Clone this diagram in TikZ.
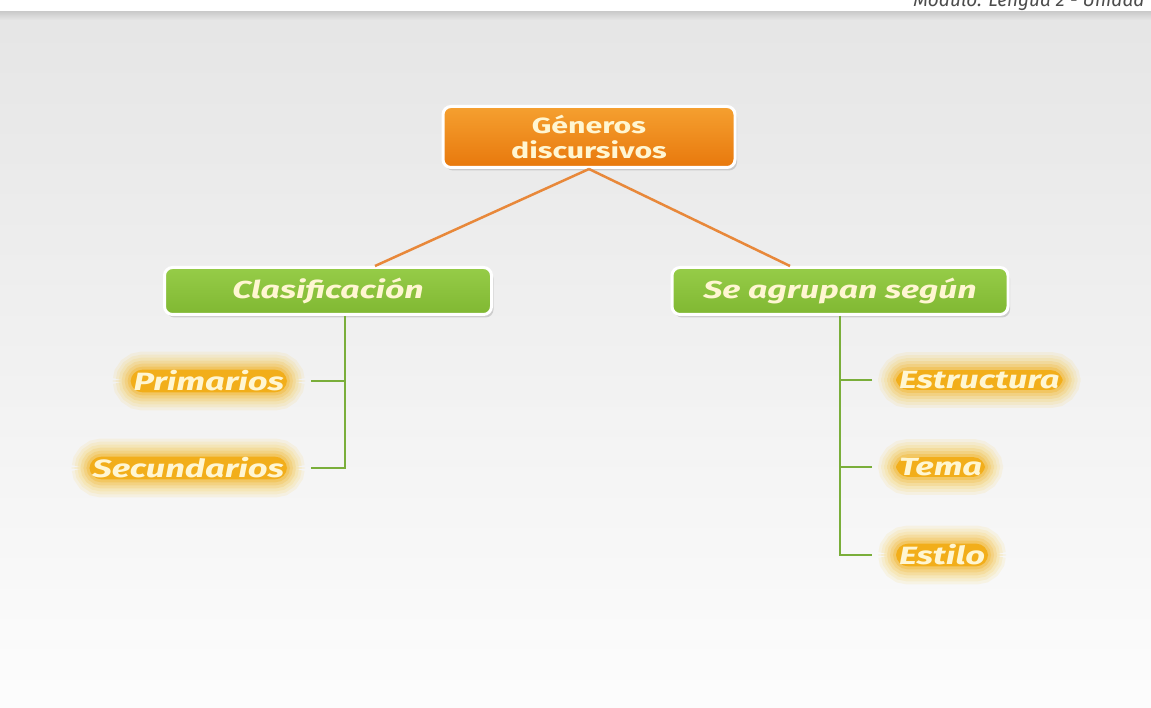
\documentclass[tikz,border=0pt]{standalone}
\usepackage{fontspec}
\setmainfont{Fira Sans}
\newfontfamily\wideface[FakeStretch=1.38]{Fira Sans}
\usetikzlibrary{calc, shadows}

\definecolor{orangetop}{HTML}{F5A030}
\definecolor{orangebot}{HTML}{E8780C}
\definecolor{greentop}{HTML}{96CC48}
\definecolor{greenbot}{HTML}{80B832}
\definecolor{orangeline}{HTML}{E8883A}
\definecolor{greenline}{HTML}{7AAE3A}
\definecolor{glowc}{HTML}{F2AE1A}
\definecolor{halo}{HTML}{F6C83A}
\definecolor{cream}{HTML}{FFF6D2}

\tikzset{
  topbox/.style={rounded corners=8pt, draw=white, line width=3pt,
    top color=orangetop, bottom color=orangebot, text=cream,
    minimum width=292pt, minimum height=61pt, align=center,
    font=\wideface\fontsize{22}{25}\selectfont\bfseries,
    drop shadow={opacity=0.3, shadow xshift=2pt, shadow yshift=-3pt}},
  midbox/.style={rounded corners=8pt, draw=white, line width=3pt,
    top color=greentop, bottom color=greenbot, text=cream,
    minimum height=47pt,
    font=\wideface\fontsize{24.5}{24.5}\selectfont\bfseries\itshape,
    drop shadow={opacity=0.3, shadow xshift=2pt, shadow yshift=-3pt}},
  leaf/.style={rounded corners=12pt, fill=glowc, text=cream,
    inner xsep=3pt, inner ysep=1pt, outer xsep=24pt,
    font=\wideface\fontsize{25}{25}\selectfont\bfseries\itshape,
    preaction={draw=halo, line width=36pt, opacity=0.1},
    preaction={draw=halo, line width=30pt, opacity=0.12},
    preaction={draw=halo, line width=24pt, opacity=0.14},
    preaction={draw=glowc, line width=18pt, opacity=0.16},
    preaction={draw=glowc, line width=12pt, opacity=0.2},
    preaction={draw=glowc, line width=6pt, opacity=0.3}},
  oline/.style={draw=orangeline, line width=2.5pt},
  gline/.style={draw=greenline, line width=2.5pt}
}

\begin{document}
\begin{tikzpicture}[x=1pt, y=-1pt]
  \useasboundingbox (0,0) rectangle (1151,708);

  % background
  \fill[white] (0,0) rectangle (1151,708);
  \shade[top color=black!10, bottom color=black!1] (0,12) rectangle (1151,708);
  \shade[top color=black!20, bottom color=black!10] (0,12) rectangle (1151,20);
  \begin{scope}
    \clip (0,0) rectangle (1151,12);
    \node[anchor=base east, text=black!70, font=\fontsize{19}{19}\selectfont\itshape]
      (head) at (1148,7) {Módulo: Lengua 2 - Unidad};
  \end{scope}

  \node[topbox] (gen) at (589,137) {Géneros\\discursivos};
  \node[midbox, minimum width=327pt] (clas) at (328,291) {Clasificación};
  \node[midbox, minimum width=336pt] (sag) at (840,291) {Se agrupan según};

  \coordinate (lend) at ($(clas.north)+(47,0)$);
  \coordinate (rend) at ($(sag.north)+(-50,0)$);
  \draw[oline] (gen.south) -- (lend);
  \draw[oline] (gen.south) -- (rend);

  % left branch
  \node[leaf, anchor=east] (prim) at (311,381) {Primarios};
  \node[leaf, anchor=east] (sec) at (311,468) {Secundarios};
  \coordinate (lstem) at ($(clas.south)+(17,0)$);
  \draw[gline] (lstem) |- (sec.east);
  \draw[gline] (prim.east) -- (prim.east -| lstem);

  % right branch
  \node[leaf, anchor=west] (estr) at (872,380) {Estructura};
  \node[leaf, anchor=west] (tema) at (872,467) {Tema};
  \node[leaf, anchor=west] (esti) at (872,555) {Estilo};
  \draw[gline] (sag.south) |- (esti.west);
  \draw[gline] (estr.west) -- (estr.west -| sag.south);
  \draw[gline] (tema.west) -- (tema.west -| sag.south);
\end{tikzpicture}
\end{document}
